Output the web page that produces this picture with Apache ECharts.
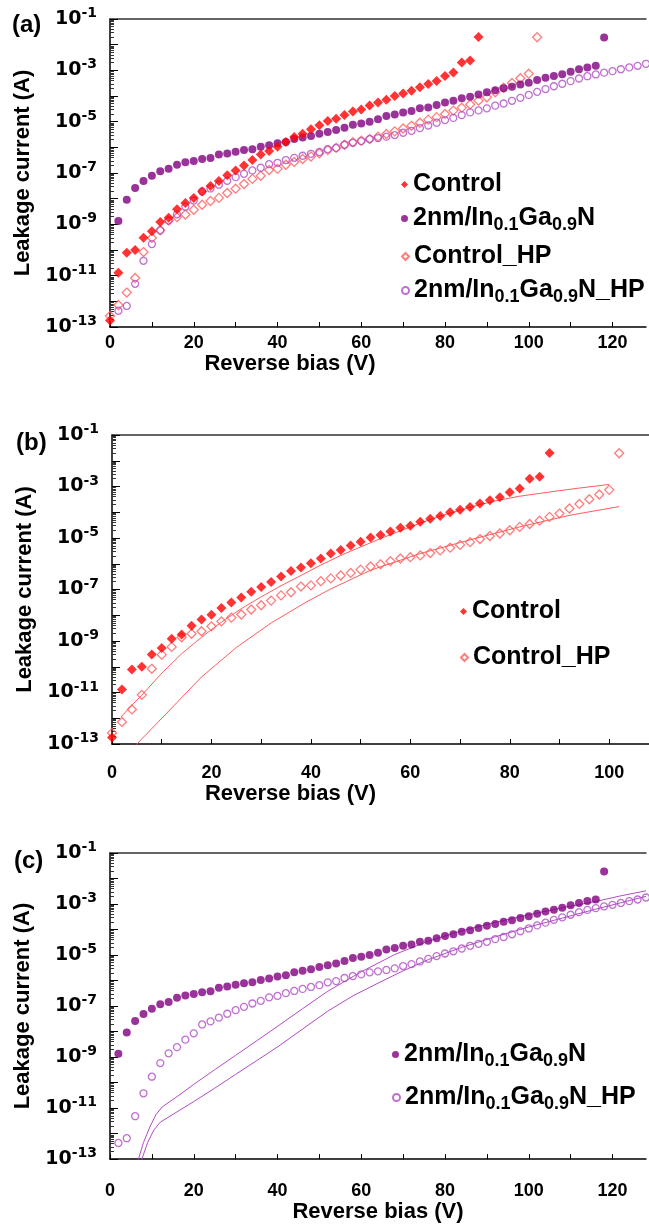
<!DOCTYPE html>
<html>
<head>
<meta charset="utf-8">
<title>Leakage current vs reverse bias</title>
<script src="https://cdn.jsdelivr.net/npm/echarts@6/dist/echarts.min.js"></script>
<style>
  body { margin: 0; background: #fff; }
  #chart { width: 649px; height: 1224px; }
</style>
</head>
<body>
<div id="chart"></div>
<script>
// reverse bias steps (V), shared by all measured curves
const biasV = [0, 2, 4, 6, 8, 10, 12, 14, 16, 18, 20, 22, 24, 26, 28, 30, 32, 34, 36, 38,
  40, 42, 44, 46, 48, 50, 52, 54, 56, 58, 60, 62, 64, 66, 68, 70, 72, 74, 76, 78,
  80, 82, 84, 86, 88, 90, 92, 94, 96, 98, 100, 102, 104, 106, 108, 110, 112, 114, 116, 118,
  120, 122, 124, 126, 128];

// Control, from 0 V
const control = [1.8e-13, 1.3e-11, 7.9e-11, 1.0e-10, 3.0e-10, 5.4e-10, 1.23e-9, 1.8e-9, 3.9e-9, 6.8e-9,
  1.05e-8, 1.9e-8, 3.1e-8, 4.9e-8, 8.1e-8, 1.26e-7, 1.95e-7, 3.2e-7, 5.2e-7, 7.2e-7,
  1.05e-6, 1.6e-6, 2.5e-6, 3.4e-6, 5.1e-6, 7.2e-6, 1.05e-5, 1.3e-5, 1.8e-5, 2.5e-5,
  3.0e-5, 4.3e-5, 5.6e-5, 7.1e-5, 1.0e-4, 1.26e-4, 1.6e-4, 2.2e-4, 2.95e-4, 3.8e-4,
  6.0e-4, 8.3e-4, 2.0e-3, 2.4e-3, 2.0e-2];

// 2nm/In0.1Ga0.9N, from 2 V
const inGaN = [1.35e-9, 9.1e-9, 2.6e-8, 4.9e-8, 7.9e-8, 1.17e-7, 1.45e-7, 2.1e-7, 2.6e-7, 2.95e-7,
  3.5e-7, 3.8e-7, 5.2e-7, 5.8e-7, 6.8e-7, 7.8e-7, 8.5e-7, 1.05e-6, 1.2e-6, 1.45e-6,
  1.6e-6, 2.1e-6, 2.4e-6, 2.75e-6, 3.4e-6, 4.0e-6, 4.7e-6, 5.8e-6, 7.6e-6, 8.5e-6,
  1.0e-5, 1.23e-5, 1.66e-5, 1.9e-5, 2.3e-5, 2.6e-5, 3.3e-5, 3.6e-5, 4.5e-5, 5.6e-5,
  6.5e-5, 8.1e-5, 9.3e-5, 1.15e-4, 1.4e-4, 1.66e-4, 2.0e-4, 2.3e-4, 2.8e-4, 3.3e-4,
  4.2e-4, 5.1e-4, 6.0e-4, 7.1e-4, 8.9e-4, 1.1e-3, 1.3e-3, 1.5e-3, 1.9e-2];

// Control_HP, from 0 V
const controlHP = [2.7e-13, 7.2e-13, 2.2e-12, 8.1e-12, 8.3e-11, 2.95e-10, 5.9e-10, 1.4e-9, 1.9e-9, 2.4e-9,
  3.7e-9, 5.8e-9, 8.1e-9, 1.07e-8, 1.66e-8, 2.45e-8, 3.7e-8, 5.9e-8, 7.8e-8, 1.3e-7,
  1.45e-7, 2.1e-7, 2.7e-7, 3.5e-7, 4.4e-7, 5.9e-7, 7.8e-7, 9.5e-7, 1.26e-6, 1.6e-6,
  1.8e-6, 2.1e-6, 2.6e-6, 3.3e-6, 4.2e-6, 5.4e-6, 6.9e-6, 9.1e-6, 1.2e-5, 1.5e-5,
  2.0e-5, 2.7e-5, 3.5e-5, 4.7e-5, 6.6e-5, 8.9e-5, 1.4e-4, 2.1e-4, 3.2e-4, 4.9e-4,
  7.4e-4, 1.95e-2];

// 2nm/In0.1Ga0.9N_HP, from 2 V
const inGaNHP = [4.3e-13, 6.6e-13, 4.8e-12, 3.8e-11, 1.7e-10, 5.8e-10, 1.4e-9, 2.45e-9, 4.8e-9, 8.5e-9,
  1.9e-8, 2.5e-8, 3.5e-8, 5.0e-8, 6.9e-8, 9.3e-8, 1.26e-7, 1.6e-7, 2.2e-7, 2.5e-7,
  3.2e-7, 3.9e-7, 4.7e-7, 5.6e-7, 6.6e-7, 8.5e-7, 9.5e-7, 1.26e-6, 1.5e-6, 1.74e-6,
  2.1e-6, 2.3e-6, 2.6e-6, 3.0e-6, 3.7e-6, 4.4e-6, 5.6e-6, 7.1e-6, 9.1e-6, 1.15e-5,
  1.4e-5, 1.8e-5, 2.3e-5, 2.75e-5, 3.3e-5, 4.2e-5, 5.1e-5, 6.5e-5, 8.5e-5, 1.1e-4,
  1.45e-4, 1.86e-4, 2.4e-4, 3.0e-4, 3.8e-4, 4.8e-4, 5.9e-4, 6.9e-4, 8.1e-4, 9.3e-4,
  1.1e-3, 1.3e-3, 1.5e-3, 1.8e-3];

// fitted curves in (b)
const fitCtrlV = [1.8, 4, 6, 10, 14, 18, 22, 26, 30, 34, 38, 42, 46, 50, 54, 58, 62, 66, 70, 74, 78, 82, 86, 90, 94, 100];
const fitCtrlI = [1.12e-12, 3.2e-12, 7.9e-12, 5.6e-11, 3.2e-10, 1.4e-9, 5.4e-9, 1.8e-8, 5.2e-8, 1.4e-7,
  3.5e-7, 8.9e-7, 2.1e-6, 4.5e-6, 9.5e-6, 1.9e-5, 3.8e-5, 7.1e-5, 1.2e-4, 2.0e-4,
  3.0e-4, 4.2e-4, 5.4e-4, 6.9e-4, 8.7e-4, 1.2e-3];
const fitCtrlHPV = [4.5, 12, 18, 25, 32, 39, 44, 52, 62, 72, 82, 92, 102];
const fitCtrlHPI = [7.9e-14, 2.5e-12, 4.0e-11, 5.6e-10, 5.0e-9, 3.2e-8, 1.05e-7, 5.6e-7, 2.5e-6, 8.5e-6,
  2.7e-5, 7.6e-5, 1.66e-4];

// fitted curves in (c)
const fitInGaNV = [6.7, 8, 9.5, 11, 12.5, 16, 20, 25, 30, 35, 40, 46, 52, 60, 68, 76, 84, 92, 100, 108, 116, 122, 128];
const fitInGaNI = [8.9e-14, 4.5e-13, 1.8e-12, 5.6e-12, 1.12e-11, 2.8e-11, 8.5e-11, 3.2e-10, 1.17e-9, 4.3e-9,
  1.6e-8, 7.9e-8, 3.8e-7, 2.2e-6, 1.05e-5, 3.5e-5, 8.9e-5, 1.9e-4, 3.8e-4, 7.1e-4,
  1.26e-3, 2.1e-3, 3.3e-3];
const fitInGaNHPV = [7.5, 9, 10.5, 12, 16, 20, 25, 30, 35, 40, 46, 52, 58, 64, 70, 76, 84, 92, 100, 108, 116, 122, 128];
const fitInGaNHPI = [8.9e-14, 4.5e-13, 1.4e-12, 2.8e-12, 7.1e-12, 1.8e-11, 6.0e-11, 2.1e-10, 7.2e-10, 2.5e-9,
  1.26e-8, 6.3e-8, 2.5e-7, 7.9e-7, 2.4e-6, 6.6e-6, 2.0e-5, 5.2e-5, 1.26e-4, 2.8e-4,
  6.3e-4, 1.12e-3, 2.0e-3];

const xTickLabels = [0, 20, 40, 60, 80, 100, 120];
const yTickExps = [-1, -3, -5, -7, -9, -11, -13];

const N_CTRL = 'Control';
const N_INGAN = '2nm/In0.1Ga0.9N';
const N_CTRL_HP = 'Control_HP';
const N_INGAN_HP = '2nm/In0.1Ga0.9N_HP';
const legendText = {
  'Control': 'Control',
  '2nm/In0.1Ga0.9N': '2nm/In{sub|0.1}Ga{sub|0.9}N',
  'Control_HP': 'Control_HP',
  '2nm/In0.1Ga0.9N_HP': '2nm/In{sub|0.1}Ga{sub|0.9}N_HP'
};

const FONT = '"Liberation Sans", Arial, sans-serif';
const WIDE = '"DejaVu Sans", Verdana, sans-serif';
const RED = '#ff0000', PURPLE = '#800080', RED_HP = '#ff5c5c', PURPLE_HP = '#b04cc4';

function pairs(vals, start) {
  return vals.map((y, i) => [biasV[i + start], y]);
}
function zip(xs, ys) {
  return xs.map((x, i) => [x, ys[i]]);
}

function yAxisFor(gi) {
  return {
    type: 'log', logBase: 10, gridIndex: gi, min: 1e-13, max: 1e-1, interval: 1,
    name: 'Leakage current (A)', nameLocation: 'middle', nameGap: 52,
    nameTextStyle: { fontSize: 22, fontWeight: 'bold', color: '#000', fontFamily: FONT },
    axisLine: { show: true, lineStyle: { color: '#000', width: 1.5 } },
    axisTick: { inside: true, length: 8, lineStyle: { color: '#000' } },
    minorTick: { show: true, splitNumber: 9, length: 4, lineStyle: { color: '#333' } },
    splitLine: { show: false },
    axisLabel: {
      margin: 13, color: '#000', fontFamily: WIDE,
      formatter: function (v) {
        const e = Math.round(Math.log10(v));
        return yTickExps.includes(e) ? '{b|10}{s|' + e + '}' : '';
      },
      rich: {
        b: { fontSize: 19, fontWeight: 'bold', fontFamily: WIDE, color: '#000' },
        s: { fontSize: 14, fontWeight: 'bold', fontFamily: WIDE, color: '#000', padding: [0, 0, 11, 0] }
      }
    }
  };
}

function xAxisFor(gi, max, labelMargin, nameGap, shift) {
  return {
    type: 'value', gridIndex: gi, min: 0, max: max, interval: 10,
    name: 'Reverse bias (V)', nameLocation: 'middle', nameGap: nameGap,
    nameTextStyle: { fontSize: 22, fontWeight: 'bold', color: '#000', fontFamily: FONT, padding: [0, shift, 0, 0] },
    axisLine: { show: true, onZero: false, lineStyle: { color: '#000', width: 1.5 } },
    axisTick: { inside: true, length: 5, lineStyle: { color: '#000' } },
    splitLine: { show: false },
    axisLabel: {
      margin: labelMargin, fontSize: 18, fontWeight: 'bold', color: '#000', fontFamily: FONT,
      showMaxLabel: false,
      formatter: v => (xTickLabels.includes(v) ? String(v) : '')
    }
  };
}

function frameAxis(gi, max) {
  return {
    type: 'value', gridIndex: gi, position: 'top', min: 0, max: max,
    axisLine: { show: true, lineStyle: { color: '#333', width: 1.5 } },
    axisTick: { show: false }, axisLabel: { show: false }, splitLine: { show: false }
  };
}

// one legend entry per component so each row sits where the original puts it
function legendItem(name, left, top) {
  return {
    data: [name], left: left, top: top,
    itemWidth: 7, itemHeight: 7, selectedMode: false, padding: 0,
    formatter: n => legendText[n],
    textStyle: {
      fontSize: 25, fontWeight: 'bold', color: '#000', fontFamily: FONT,
      rich: { sub: { fontSize: 18, fontWeight: 'bold', color: '#000', fontFamily: FONT, padding: [13, 0, 0, 0] } }
    }
  };
}

const markCtrl = { symbol: 'diamond', symbolSize: 10, itemStyle: { color: RED } };
const markInGaN = { symbol: 'circle', symbolSize: 8, itemStyle: { color: PURPLE } };
const markCtrlHP = { symbol: 'diamond', symbolSize: 9, itemStyle: { color: 'rgba(255,255,255,0)', borderColor: RED_HP, borderWidth: 1.3 } };
const markInGaNHP = { symbol: 'circle', symbolSize: 7, itemStyle: { color: 'rgba(255,255,255,0)', borderColor: PURPLE_HP, borderWidth: 1.3 } };

function scatter(name, mark, data, gi) {
  return Object.assign({ type: 'scatter', name: name, xAxisIndex: gi, yAxisIndex: gi, data: data, z: 3 }, mark);
}
function fitLine(name, color, data, gi) {
  return {
    type: 'line', name: name, xAxisIndex: gi, yAxisIndex: gi, data: data,
    showSymbol: false, smooth: false, clip: true, z: 2,
    lineStyle: { color: color, width: 1 }
  };
}

const chart = echarts.init(document.getElementById('chart'));
chart.setOption({
  animation: false,
  backgroundColor: '#fff',
  textStyle: { fontFamily: FONT },
  grid: [
    { left: 110, top: 19, right: 3, height: 308 },
    { left: 112, top: 435, right: 0, height: 309 },
    { left: 110, top: 853, right: 3, height: 307 }
  ],
  xAxis: [
    xAxisFor(0, 128, 7, 25, 176),
    xAxisFor(1, 108, 20, 31, 180),
    xAxisFor(2, 128, 23, 39, 0),
    frameAxis(0, 128), frameAxis(1, 108), frameAxis(2, 128)
  ],
  yAxis: [yAxisFor(0), yAxisFor(1), yAxisFor(2)],
  legend: [
    legendItem(N_CTRL, 401, 172),
    legendItem(N_INGAN, 401, 206),
    legendItem(N_CTRL_HP, 401, 244),
    legendItem(N_INGAN_HP, 401, 278),
    legendItem(N_CTRL, 460, 599),
    legendItem(N_CTRL_HP, 460, 645),
    legendItem(N_INGAN, 392, 1042),
    legendItem(N_INGAN_HP, 392, 1085)
  ],
  graphic: [
    { type: 'text', left: 12, top: 13, style: { text: '(a)', font: 'bold 24px ' + FONT, fill: '#000' } },
    { type: 'text', left: 16, top: 431, style: { text: '(b)', font: 'bold 24px ' + FONT, fill: '#000' } },
    { type: 'text', left: 14, top: 849, style: { text: '(c)', font: 'bold 24px ' + FONT, fill: '#000' } }
  ],
  series: [
    scatter(N_CTRL_HP, markCtrlHP, pairs(controlHP, 0), 0),
    scatter(N_INGAN_HP, markInGaNHP, pairs(inGaNHP, 1), 0),
    scatter(N_INGAN, markInGaN, pairs(inGaN, 1), 0),
    scatter(N_CTRL, markCtrl, pairs(control, 0), 0),

    fitLine('Control fit', RED_HP, zip(fitCtrlV, fitCtrlI), 1),
    fitLine('Control_HP fit', RED_HP, zip(fitCtrlHPV, fitCtrlHPI), 1),
    scatter(N_CTRL_HP, markCtrlHP, pairs(controlHP, 0), 1),
    scatter(N_CTRL, markCtrl, pairs(control, 0), 1),

    fitLine('InGaN fit', PURPLE_HP, zip(fitInGaNV, fitInGaNI), 2),
    fitLine('InGaN_HP fit', PURPLE_HP, zip(fitInGaNHPV, fitInGaNHPI), 2),
    scatter(N_INGAN_HP, markInGaNHP, pairs(inGaNHP, 1), 2),
    scatter(N_INGAN, markInGaN, pairs(inGaN, 1), 2)
  ]
});
</script>
</body>
</html>
